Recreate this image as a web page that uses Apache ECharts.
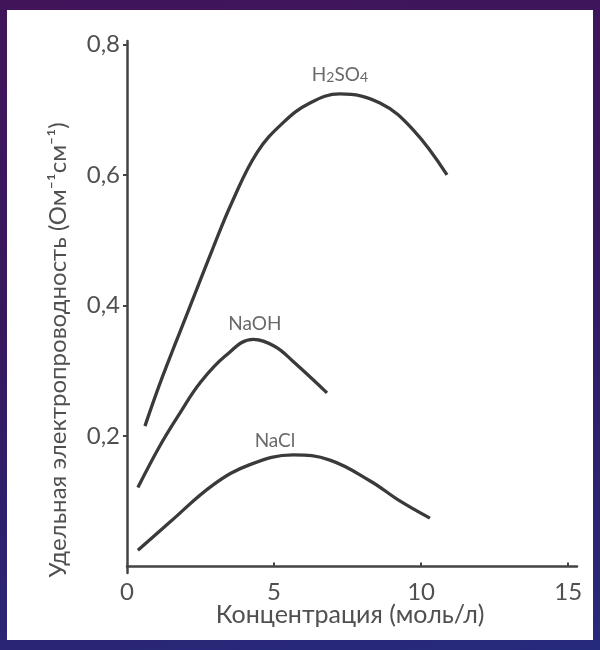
<!DOCTYPE html>
<html>
<head>
<meta charset="utf-8">
<script src="https://cdn.jsdelivr.net/npm/echarts@6/dist/echarts.min.js"></script>
<style>
  html, body { margin: 0; padding: 0; }
  body {
    width: 600px; height: 650px; overflow: hidden; position: relative;
    background: linear-gradient(170deg, #41145a 0%, #36185f 45%, #262a7c 100%);
  }
  #panel { position: absolute; left: 7px; top: 10px; width: 586px; height: 630px; background: #fff; }
  #chart { position: absolute; left: 0; top: 0; width: 600px; height: 650px; }
</style>
</head>
<body>
<div id="panel"></div>
<div id="chart"></div>
<script>
// концентрация (моль/л) и удельная электропроводность
var h2so4X = [0.61, 1.2, 2.14, 2.9, 3.57, 4.42, 5.31, 6.22, 7.24, 8.6, 9.73, 10.88];
var h2so4Y = [0.215, 0.29, 0.398, 0.485, 0.558, 0.634, 0.68, 0.71, 0.724, 0.71, 0.669, 0.60];

var naohX = [0.37, 1.12, 1.80, 2.48, 3.33, 4.29, 5.03, 5.65, 6.80];
var naohY = [0.121, 0.185, 0.235, 0.281, 0.322, 0.348, 0.337, 0.314, 0.266];

var naclX = [0.37, 1.46, 2.93, 4.18, 5.65, 6.90, 8.27, 9.29, 10.3];
var naclY = [0.025, 0.068, 0.125, 0.156, 0.171, 0.163, 0.131, 0.1, 0.074];

// подписи кривых
var curveNames = ['H{s|2}SO{s|4}', 'NaOH', 'NaCl'];
var namePos = [[7.24, 0.753], [4.35, 0.372], [5.03, 0.193]];

var xTicks = [0, 5, 10, 15];
var yTicks = [0.2, 0.4, 0.6, 0.8];

var font = 'Lato, "Open Sans", sans-serif';
var ink = '#3a3a3a';
var textColor = '#505050';

function pairs(xs, ys) {
  return xs.map(function (x, i) { return [x, ys[i]]; });
}

function curve(xs, ys) {
  return {
    type: 'line',
    data: pairs(xs, ys),
    smooth: 0.4,
    symbol: 'none',
    lineStyle: { color: ink, width: 3.3 }
  };
}

var chart = echarts.init(document.getElementById('chart'));

chart.setOption({
  backgroundColor: 'transparent',
  animation: false,
  grid: { left: 127, right: 23, top: 41, bottom: 77 },
  xAxis: {
    type: 'value',
    min: 0, max: 15.3,
    splitLine: { show: false },
    axisLine: { lineStyle: { color: '#444', width: 2.5 } },
    axisTick: { inside: true, length: 4, customValues: [5, 10, 15], lineStyle: { color: '#444', width: 2 } },
    axisLabel: { customValues: xTicks, margin: 7, fontSize: 24, color: textColor, fontFamily: font }
  },
  yAxis: {
    type: 'value',
    min: -0.01, max: 0.805,
    splitLine: { show: false },
    axisLine: { show: true, lineStyle: { color: '#444', width: 2.5 } },
    axisTick: { show: true, length: 4, customValues: yTicks, lineStyle: { color: '#444', width: 2 } },
    axisLabel: {
      customValues: yTicks, margin: 7, fontSize: 24, color: textColor, fontFamily: font,
      formatter: function (v) { return v.toFixed(1).replace('.', ','); }
    }
  },
  graphic: [
    {
      type: 'text', x: 58, y: 350, rotation: Math.PI / 2,
      style: {
        text: 'Удельная электропроводность (Ом⁻¹см⁻¹)',
        fontSize: 24, fontFamily: font, fill: textColor,
        align: 'center', verticalAlign: 'middle'
      }
    },
    {
      type: 'text', x: 350, y: 615,
      style: {
        text: 'Концентрация (моль/л)',
        fontSize: 25, fontFamily: font, fill: textColor,
        align: 'center', verticalAlign: 'middle'
      }
    }
  ],
  series: [
    curve(h2so4X, h2so4Y),
    curve(naohX, naohY),
    curve(naclX, naclY),
    {
      type: 'scatter',
      symbolSize: 0,
      silent: true,
      data: namePos.map(function (p, i) { return { value: p, name: curveNames[i] }; }),
      label: {
        show: true,
        position: 'inside',
        formatter: '{b}',
        fontSize: 19, color: '#444', fontFamily: font,
        rich: { s: { fontSize: 14, color: '#444', fontFamily: font, verticalAlign: 'bottom', padding: [6, 0, 0, 0] } }
      }
    }
  ]
});
</script>
</body>
</html>
